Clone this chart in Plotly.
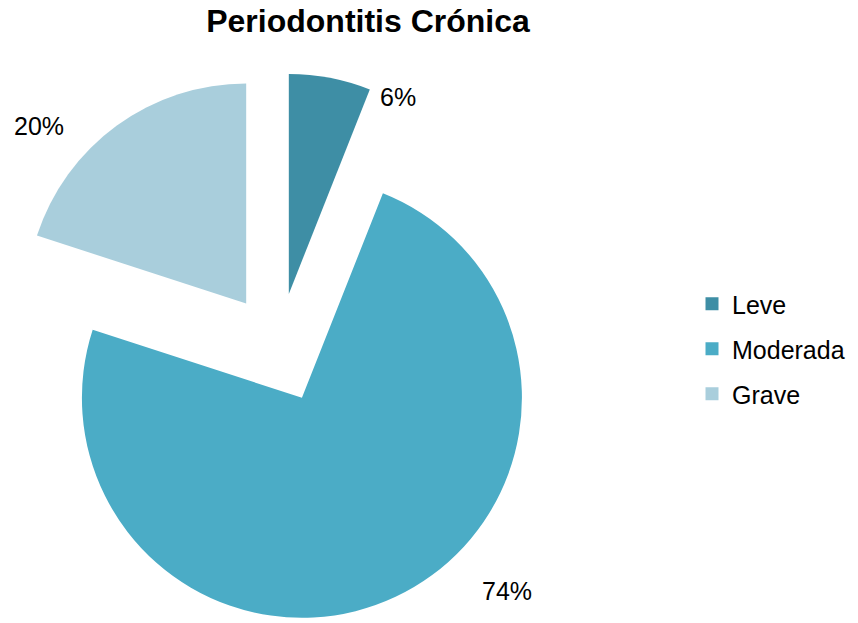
import plotly.graph_objects as go

categories = ["Leve", "Moderada", "Grave"]
values = [6, 74, 20]
colors = ["#3E8EA5", "#4BACC6", "#A9CEDC"]
pulls = [0.25, 0.25, 0.25]
title_text = "Periodontitis Crónica"

W, H = 858, 623
MT = 73
FONT = "Liberation Sans, Arial, sans-serif"

fig = go.Figure()
fig.add_trace(go.Pie(
    labels=categories,
    values=values,
    marker=dict(colors=colors, line=dict(width=0)),
    pull=pulls,
    sort=False,
    direction="clockwise",
    rotation=0,
    textinfo="none",
    hoverinfo="label+percent",
    showlegend=False,
    domain=dict(x=[0, 557 / W], y=[0, 1]),
))

# legend entries (one group per category so the spacing can be set)
for cat, col in zip(categories, colors):
    fig.add_trace(go.Scatter(
        x=[None], y=[None], mode="markers", name=cat,
        legendgroup=cat,
        marker=dict(symbol="square", size=13, color=col, line=dict(width=0)),
        hoverinfo="skip",
    ))

total = sum(values)
label_pos = [(397.5, 96.5), (507, 590.5), (39, 126)]
annotations = []
for v, (px, py) in zip(values, label_pos):
    annotations.append(dict(
        text=f"{round(100 * v / total)}%",
        x=px / W, y=(H - py) / (H - MT),
        xref="paper", yref="paper",
        xanchor="center", yanchor="middle",
        showarrow=False,
        font=dict(size=25, color="#000000", family=FONT),
    ))

fig.update_layout(
    width=W, height=H,
    margin=dict(l=0, r=0, t=MT, b=0),
    paper_bgcolor="white",
    plot_bgcolor="white",
    font=dict(family=FONT, color="#000000"),
    xaxis=dict(visible=False),
    yaxis=dict(visible=False),
    title=dict(
        text=title_text,
        x=368 / W, xanchor="center",
        y=1 - 21 / H, yanchor="middle",
        xref="container", yref="container",
        font=dict(size=32, weight="bold", color="#000000", family=FONT),
    ),
    legend=dict(
        x=692 / W, xanchor="left",
        y=(H - 349) / (H - MT), yanchor="middle",
        font=dict(size=25, color="#000000"),
        bgcolor="rgba(0,0,0,0)",
        tracegroupgap=9.5,
    ),
    annotations=annotations,
)

fig.write_html("out.html")
